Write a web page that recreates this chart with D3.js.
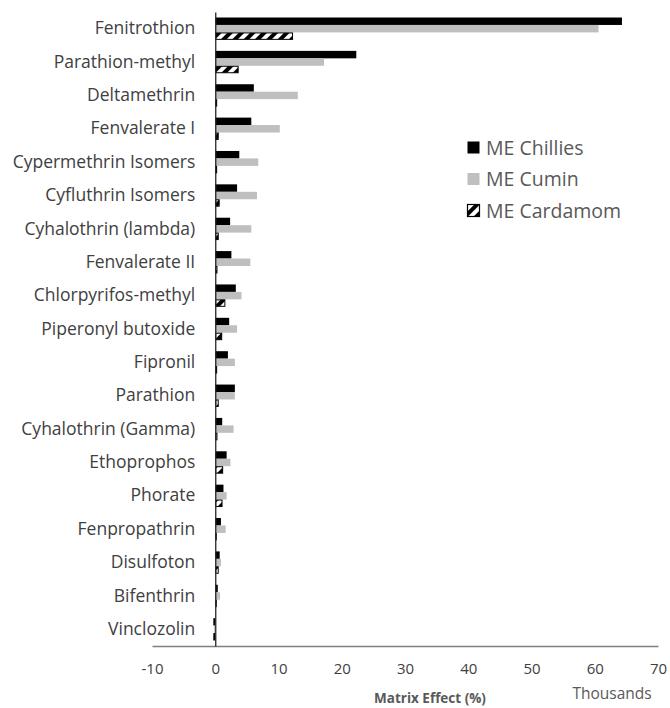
<!DOCTYPE html>
<html>
<head>
<meta charset="utf-8">
<script src="https://cdn.jsdelivr.net/npm/d3@7"></script>
<style>
  html, body { margin: 0; padding: 0; background: #fff; }
  svg { display: block; }
</style>
</head>
<body>
<svg id="chart" width="670" height="708"></svg>
<script>
// ---- Data (values in thousands of %) ----
const categories = [
  "Fenitrothion", "Parathion-methyl", "Deltamethrin", "Fenvalerate I",
  "Cypermethrin Isomers", "Cyfluthrin Isomers", "Cyhalothrin (lambda)",
  "Fenvalerate II", "Chlorpyrifos-methyl", "Piperonyl butoxide", "Fipronil",
  "Parathion", "Cyhalothrin (Gamma)", "Ethoprophos", "Phorate",
  "Fenpropathrin", "Disulfoton", "Bifenthrin", "Vinclozolin"
];
const seriesNames = ["ME Chillies", "ME Cumin", "ME Cardamom"];
const meChillies  = [64.3, 22.3, 6.1, 5.7, 3.8, 3.45, 2.35, 2.55, 3.25, 2.2, 2.0, 3.1, 1.1, 1.8, 1.3, 0.9, 0.7, 0.4, -0.3];
const meCumin     = [60.6, 17.2, 13.05, 10.2, 6.8, 6.6, 5.7, 5.55, 4.15, 3.45, 3.1, 3.1, 2.9, 2.4, 1.8, 1.65, 0.9, 0.75, -0.2];
const meCardamom  = [12.3, 3.7, 0.3, 0.55, 0.3, 0.7, 0.55, 0.35, 1.6, 1.1, 0.3, 0.55, 0.35, 1.25, 1.15, 0.2, 0.55, 0.2, -0.3];
const xTicks = [-10, 0, 10, 20, 30, 40, 50, 60, 70];
const xTitle = "Matrix Effect (%)";
const unitLabel = "Thousands";

const seriesValues = [meChillies, meCumin, meCardamom];

// ---- Layout ----
const svg = d3.select("#chart");
const FONT = "'Open Sans', 'Noto Sans', sans-serif";

const defs = svg.append("defs");
const pat = defs.append("pattern")
  .attr("id", "hatch")
  .attr("patternUnits", "userSpaceOnUse")
  .attr("width", 8).attr("height", 8)
  .attr("patternTransform", "rotate(45)");
pat.append("rect").attr("width", 8).attr("height", 8).attr("fill", "#fff");
pat.append("rect").attr("x", 0).attr("y", 0).attr("width", 4).attr("height", 8).attr("fill", "#000");

const fills = ["#000000", "#bfbfbf", "url(#hatch)"];
const strokes = ["none", "none", "#000"];

const x = d3.scaleLinear().domain([-10, 70]).range([152, 658]);
const y = d3.scaleBand().domain(categories).range([12, 646])
  .paddingInner(0.33).paddingOuter(0.165);
const ySub = d3.scaleBand().domain(seriesNames).range([0, y.bandwidth()]);

// bars
seriesNames.forEach((s, si) => {
  const g = svg.append("g");
  g.selectAll("rect")
    .data(categories.map((c, i) => ({ c, v: seriesValues[si][i] })))
    .join("rect")
    .attr("x", d => Math.min(x(0), x(d.v)) + (si === 2 ? 0.5 : 0))
    .attr("y", d => y(d.c) + ySub(s) + (si === 2 ? 0.5 : 0))
    .attr("width", d => Math.max(0.5, Math.abs(x(d.v) - x(0)) - (si === 2 ? 1 : 0)))
    .attr("height", ySub.bandwidth() - (si === 2 ? 1 : 0))
    .attr("fill", fills[si])
    .attr("stroke", strokes[si])
    .attr("stroke-width", 1);
});

// x axis
const xAxis = svg.append("g")
  .attr("transform", "translate(0,646)")
  .call(d3.axisBottom(x).tickValues(xTicks).tickSize(0).tickPadding(17).tickFormat(d => String(d)));
xAxis.select(".domain").attr("stroke", "#7f7f7f").attr("stroke-width", 1.3);
xAxis.selectAll("text").attr("font-family", FONT).attr("font-size", 15).attr("fill", "#404040");

// y axis
const yAxis = svg.append("g")
  .attr("transform", `translate(${x(0)},0)`)
  .call(d3.axisLeft(y).tickSize(0).tickPadding(20));
yAxis.select(".domain").attr("stroke", "#262626").attr("stroke-width", 1.3);
yAxis.selectAll("text").attr("font-family", FONT).attr("font-size", 17.5).attr("fill", "#404040");

// axis title
svg.append("text")
  .attr("x", 430).attr("y", 703)
  .attr("text-anchor", "middle")
  .attr("font-family", FONT).attr("font-size", 13.5).attr("font-weight", "bold")
  .attr("fill", "#595959")
  .text(xTitle);

svg.append("text")
  .attr("x", 612).attr("y", 699)
  .attr("text-anchor", "middle")
  .attr("font-family", FONT).attr("font-size", 15.5)
  .attr("fill", "#595959")
  .text(unitLabel);

// legend
const legend = svg.append("g");
seriesNames.forEach((s, si) => {
  const ly = 148 + si * 31.5;
  legend.append("rect")
    .attr("x", 467.5).attr("y", ly - 6.5).attr("width", 12).attr("height", 12)
    .attr("fill", fills[si]).attr("stroke", strokes[si]).attr("stroke-width", 1.2);
  legend.append("text")
    .attr("x", 486).attr("y", ly).attr("dy", "0.35em")
    .attr("font-family", FONT).attr("font-size", 19.5)
    .attr("fill", "#595959")
    .text(s);
});
</script>
</body>
</html>
